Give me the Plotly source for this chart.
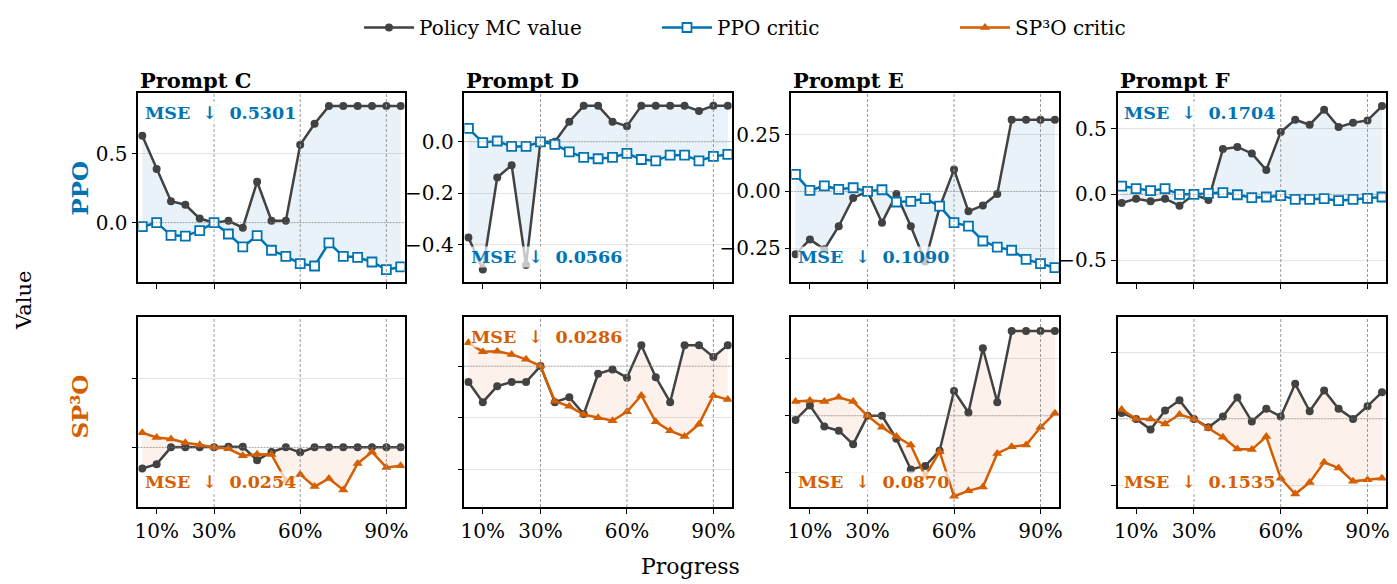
import plotly.graph_objects as go
from plotly.subplots import make_subplots

# progress through the response (fraction of tokens)
progress = [0.05, 0.10, 0.15, 0.20, 0.25, 0.30, 0.35, 0.40, 0.45, 0.50,
            0.55, 0.60, 0.65, 0.70, 0.75, 0.80, 0.85, 0.90, 0.95]

prompts = ["Prompt C", "Prompt D", "Prompt E", "Prompt F"]

# PPO row
ppo_policy_c = [0.63, 0.39, 0.155, 0.13, 0.03, 0.0, 0.014, -0.036, 0.297, 0.014,
                0.014, 0.565, 0.717, 0.845, 0.845, 0.845, 0.845, 0.845, 0.845]
ppo_critic_c = [-0.029, 0.0, -0.092, -0.097, -0.058, 0.0, -0.082, -0.176, -0.094, -0.2,
                -0.244, -0.297, -0.314, -0.147, -0.244, -0.251, -0.285, -0.341, -0.321]
ppo_policy_d = [-0.373, -0.497, -0.139, -0.091, -0.48, 0.0, 0.0, 0.078, 0.14, 0.14,
                0.078, 0.061, 0.14, 0.14, 0.14, 0.14, 0.12, 0.14, 0.14]
ppo_critic_d = [0.052, -0.003, 0.003, -0.018, -0.018, 0.0, -0.01, -0.039, -0.061, -0.066,
                -0.061, -0.045, -0.069, -0.074, -0.052, -0.052, -0.074, -0.057, -0.049]
ppo_policy_e = [-0.278, -0.212, -0.256, -0.154, -0.029, 0.0, -0.138, -0.012, -0.154, -0.31,
                -0.07, 0.096, -0.088, -0.062, -0.012, 0.316, 0.316, 0.316, 0.316]
ppo_critic_e = [0.075, 0.004, 0.024, 0.009, 0.016, 0.0, 0.007, -0.047, -0.044, -0.032,
                -0.065, -0.138, -0.153, -0.219, -0.246, -0.26, -0.3, -0.319, -0.337]
ppo_policy_f = [-0.066, -0.033, -0.053, -0.033, -0.086, 0.0, -0.043, 0.344, 0.36, 0.311,
                0.185, 0.473, 0.567, 0.529, 0.643, 0.511, 0.544, 0.562, 0.671]
ppo_critic_f = [0.063, 0.043, 0.028, 0.043, 0.0, 0.0, 0.008, 0.013, -0.003, -0.025,
                -0.02, -0.01, -0.038, -0.038, -0.033, -0.048, -0.038, -0.03, -0.02]

# SP3O row
sp3o_policy_c = [-0.152, -0.121, 0.0, 0.0, 0.0, 0.0, 0.005, 0.005, -0.093, -0.033,
                 0.0, -0.036, 0.0, 0.0, 0.0, 0.0, 0.0, 0.0, 0.0]
sp3o_critic_c = [0.105, 0.071, 0.06, 0.033, 0.019, 0.0, -0.01, -0.06, -0.05, -0.052,
                 -0.24, -0.195, -0.283, -0.224, -0.307, -0.117, -0.033, -0.145, -0.133]
sp3o_policy_d = [-0.062, -0.14, -0.078, -0.062, -0.062, 0.0, -0.14, -0.121, -0.186, -0.03,
                 -0.013, -0.045, 0.081, -0.043, -0.14, 0.081, 0.081, 0.035, 0.081]
sp3o_critic_d = [0.09, 0.055, 0.057, 0.045, 0.026, 0.0, -0.136, -0.156, -0.188, -0.2,
                 -0.212, -0.177, -0.114, -0.216, -0.251, -0.273, -0.225, -0.114, -0.13]
sp3o_policy_e = [-0.018, 0.046, -0.047, -0.065, -0.125, 0.0, 0.0, -0.1, -0.235, -0.22,
                 -0.153, 0.109, 0.015, 0.297, 0.06, 0.372, 0.372, 0.372, 0.372]
sp3o_critic_e = [0.063, 0.068, 0.063, 0.082, 0.063, 0.0, -0.05, -0.091, -0.128, -0.265,
                 -0.157, -0.353, -0.329, -0.312, -0.165, -0.135, -0.128, -0.05, 0.012]
sp3o_policy_f = [0.045, 0.0, -0.081, 0.063, 0.141, 0.0, -0.063, 0.018, 0.162, -0.02,
                 0.076, 0.018, 0.265, 0.058, 0.215, 0.076, 0.0, 0.096, 0.202]
sp3o_critic_f = [0.071, 0.0, 0.0, -0.038, 0.033, 0.0, -0.071, -0.139, -0.227, -0.232,
                 -0.134, -0.449, -0.568, -0.48, -0.328, -0.371, -0.472, -0.46, -0.449]

mse_ppo = ["0.5301", "0.0566", "0.1090", "0.1704"]
mse_sp3o = ["0.0254", "0.0286", "0.0870", "0.1535"]

tick_pct = [0.1, 0.3, 0.6, 0.9]
tick_pct_text = ["10%", "30%", "60%", "90%"]
phase_lines = [0.3, 0.6, 0.9]

# styling
FONT = "DejaVu Serif"
GREY = "#424242"
BLUE = "#0173B2"
ORANGE = "#D55E00"
BLUE_FILL = "rgba(1,115,178,0.09)"
ORANGE_FILL = "rgba(213,94,0,0.08)"

# the page body adds an 8px margin, so the figure is 8px smaller than the window
W, H, OFF = 1389, 576, 8


def fx(px):
    return (px - OFF) / W


def fy(py):
    return 1 - (py - OFF) / H


y_ranges = [[-0.43, 0.94], [-0.546, 0.19], [-0.40, 0.434], [-0.666, 0.77]]
y_ticks = [[0.0, 0.5], [-0.4, -0.2, 0.0], [-0.25, 0.0, 0.25], [-0.5, 0.0, 0.5]]
y_fmt = [".1f", ".1f", ".2f", ".1f"]
col_domains = [[fx(135), fx(403)], [fx(463), fx(732)], [fx(792), fx(1061)], [fx(1120), fx(1390)]]
row_domains = [[fy(282), fy(93)], [fy(507), fy(317)]]
mse_place = [["top", "bottom", "bottom", "top"],
             ["bottom", "top", "bottom", "bottom"]]

rows = [
    dict(name="PPO critic", color=BLUE, fill=BLUE_FILL,
         marker=dict(symbol="square", size=9, color="white", line=dict(color=BLUE, width=1.8)),
         policy=[ppo_policy_c, ppo_policy_d, ppo_policy_e, ppo_policy_f],
         critic=[ppo_critic_c, ppo_critic_d, ppo_critic_e, ppo_critic_f],
         mse=mse_ppo),
    dict(name="SP³O critic", color=ORANGE, fill=ORANGE_FILL,
         marker=dict(symbol="triangle-up", size=9, color=ORANGE),
         policy=[sp3o_policy_c, sp3o_policy_d, sp3o_policy_e, sp3o_policy_f],
         critic=[sp3o_critic_c, sp3o_critic_d, sp3o_critic_e, sp3o_critic_f],
         mse=mse_sp3o),
]

fig = make_subplots(rows=2, cols=4)

for r, row in enumerate(rows):
    for c in range(4):
        pol = row["policy"][c]
        crit = row["critic"][c]
        first = c == 0
        # shaded gap between policy value and critic
        fig.add_trace(go.Scatter(x=progress, y=crit, mode="lines", line=dict(width=0),
                                 showlegend=False, hoverinfo="skip"), row=r + 1, col=c + 1)
        fig.add_trace(go.Scatter(x=progress, y=pol, mode="lines", line=dict(width=0),
                                 fill="tonexty", fillcolor=row["fill"],
                                 showlegend=False, hoverinfo="skip"), row=r + 1, col=c + 1)
        fig.add_trace(go.Scatter(x=progress, y=pol, mode="lines+markers", name="Policy MC value",
                                 line=dict(color=GREY, width=2.5),
                                 marker=dict(symbol="circle", size=8, color=GREY),
                                 showlegend=(r == 0 and first)),
                      row=r + 1, col=c + 1)
        fig.add_trace(go.Scatter(x=progress, y=crit, mode="lines+markers", name=row["name"],
                                 line=dict(color=row["color"], width=2.5),
                                 marker=row["marker"], showlegend=first),
                      row=r + 1, col=c + 1)

        fig.add_hline(y=0, line=dict(color="#888888", width=1, dash="1px,2px"), row=r + 1, col=c + 1)
        for v in phase_lines:
            fig.add_vline(x=v, line=dict(color="#9a9a9a", width=1, dash="3px,2px"), row=r + 1, col=c + 1)

        idx = r * 4 + c + 1
        sfx = "" if idx == 1 else str(idx)
        top = mse_place[r][c] == "top"
        fig.add_annotation(
            text="<b>MSE\u00a0\u00a0↓\u00a0\u00a0" + row["mse"][c] + "</b>",
            xref=f"x{sfx} domain", yref=f"y{sfx} domain",
            x=0.02, y=0.955 if top else 0.075, xanchor="left",
            yanchor="top" if top else "bottom", showarrow=False,
            font=dict(family=FONT, size=17.5, color=row["color"]),
            bgcolor="rgba(255,255,255,0.7)", borderpad=0)
        if r == 0:
            fig.add_annotation(
                text="<b>" + prompts[c] + "</b>", xref=f"x{sfx} domain", yref=f"y{sfx} domain",
                x=0.0, y=1.0, xanchor="left", yanchor="bottom", showarrow=False,
                font=dict(family=FONT, size=21, color="black"), yshift=-2)

        fig.update_xaxes(row=r + 1, col=c + 1, domain=col_domains[c], range=[0.036, 0.964],
                         tickvals=tick_pct, ticktext=tick_pct_text, showticklabels=(r == 1),
                         ticks="outside", ticklen=5, tickcolor="black", showgrid=False,
                         zeroline=False, showline=True, mirror=True, linecolor="black",
                         linewidth=1.5, tickfont=dict(family=FONT, size=20))
        fig.update_yaxes(row=r + 1, col=c + 1, domain=row_domains[r], range=y_ranges[c],
                         tickvals=y_ticks[c], tickformat=y_fmt[c], showticklabels=(r == 0),
                         ticks="outside", ticklen=5, tickcolor="black", showgrid=True,
                         gridcolor="#e3e3e3", gridwidth=1, zeroline=False, showline=True,
                         mirror=True, linecolor="black", linewidth=1.5,
                         tickfont=dict(family=FONT, size=20))

fig.add_annotation(text="<b>PPO</b>", xref="paper", yref="paper", x=fx(75), y=fy(188),
                   xanchor="center", yanchor="middle", textangle=-90, showarrow=False,
                   font=dict(family=FONT, size=23, color=BLUE))
fig.add_annotation(text="<b>SP³O</b>", xref="paper", yref="paper", x=fx(75), y=fy(407),
                   xanchor="center", yanchor="middle", textangle=-90, showarrow=False,
                   font=dict(family=FONT, size=23, color=ORANGE))
fig.add_annotation(text="Value", xref="paper", yref="paper", x=fx(20), y=fy(300),
                   xanchor="center", yanchor="middle", textangle=-90, showarrow=False,
                   font=dict(family=FONT, size=21, color="black"))
fig.add_annotation(text="Progress", xref="paper", yref="paper", x=fx(690), y=fy(566),
                   xanchor="center", yanchor="middle", showarrow=False,
                   font=dict(family=FONT, size=22, color="black"))

fig.update_layout(
    width=W, height=H,
    margin=dict(l=0, r=0, t=0, b=0),
    paper_bgcolor="white", plot_bgcolor="white",
    font=dict(family=FONT, size=16, color="black"),
    legend=dict(orientation="h", x=fx(357), xanchor="left", y=1.0, yanchor="top",
                traceorder="normal", entrywidth=233, itemwidth=50,
                font=dict(family=FONT, size=20), bgcolor="rgba(0,0,0,0)"),
)

fig.write_html("out.html")
